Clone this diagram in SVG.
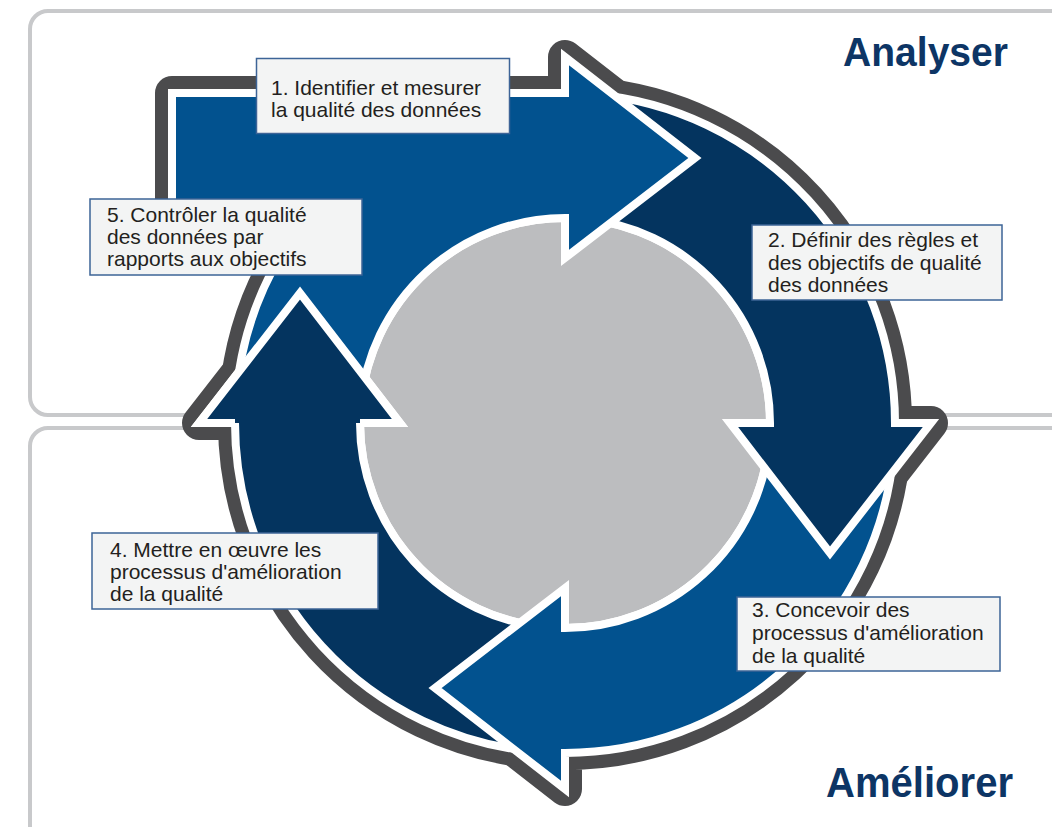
<svg xmlns="http://www.w3.org/2000/svg" width="1052" height="827" viewBox="0 0 1052 827">
  <style>
    .panel { fill: #ffffff; stroke: #c8c9cb; stroke-width: 4; }
    .outline { fill: #4b4b4d; stroke: #4b4b4d; stroke-width: 34; stroke-linejoin: round; }
    .arrow { stroke: #ffffff; stroke-width: 8; stroke-linejoin: miter; stroke-miterlimit: 6; }
    .mid { fill: #02528f; }
    .navy { fill: #04345f; }
    .hub { fill: #bcbdbf; stroke: #ffffff; stroke-width: 8; }
    .box { fill: #f3f4f4; stroke: #3d6497; stroke-width: 1.5; }
    .lbl { font-family: "Liberation Sans", Arial, sans-serif; font-size: 21px; fill: #231f20; }
    .title { font-family: "Liberation Sans Narrow", "Liberation Sans", Arial, sans-serif; font-weight: bold; fill: #0d3565; }
  </style>
  <defs>
    <!-- four ring arrows around centre (565,423): ring r 205..330, heads r 165..366 -->
    <path id="a1" d="M 236.26 394.24 A 330 330 0 0 1 285.14 248.13 L 172 215 L 172 93 L 565 93 L 565 57 L 695 158 L 565 258 L 565 218 A 205 205 0 0 0 360.78 405.13 Z"/>
    <path id="a2" d="M 593.76 94.26 A 330 330 0 0 1 895 423 L 931 423 L 830 553 L 730 423 L 770 423 A 205 205 0 0 0 582.87 218.78 Z"/>
    <path id="a3" d="M 893.74 451.76 A 330 330 0 0 1 565 753 L 565 789 L 435 688 L 565 588 L 565 628 A 205 205 0 0 0 769.22 440.87 Z"/>
    <path id="a4" d="M 536.24 751.74 A 330 330 0 0 1 235 423 L 199 423 L 300 293 L 400 423 L 360 423 A 205 205 0 0 0 547.13 627.22 Z"/>
  </defs>

  <!-- background panels -->
  <g id="panels">
    <rect class="panel" x="30" y="11" width="1100" height="404" rx="18"/>
    <rect class="panel" x="30" y="428" width="1100" height="460" rx="18"/>
  </g>

  <g id="cycle">
    <!-- dark outline around the whole wheel -->
    <g id="outline">
      <use href="#a1" class="outline"/>
      <use href="#a2" class="outline"/>
      <use href="#a3" class="outline"/>
      <use href="#a4" class="outline"/>
    </g>
    <circle id="hub" class="hub" cx="565" cy="423" r="205"/>
    <!-- each head sits over the tail of the next arrow -->
    <g id="connectors">
      <use href="#a4" class="arrow navy"/>
      <use href="#a3" class="arrow mid"/>
      <use href="#a2" class="arrow navy"/>
      <use href="#a1" class="arrow mid"/>
      <!-- head of arrow 4 again, above the tail of arrow 1 (base left open) -->
      <path class="arrow navy" d="M 360 423 L 400 423 L 300 293 L 199 423 L 235 423"/>
    </g>
  </g>

  <g id="step-1">
    <rect class="box" x="256.5" y="58.5" width="253" height="75"/>
    <text class="lbl" x="271" y="95">1. Identifier et mesurer</text>
    <text class="lbl" x="271" y="117">la qualité des données</text>
  </g>
  <g id="step-2">
    <rect class="box" x="752" y="225" width="250" height="75"/>
    <text class="lbl" x="768" y="247">2. Définir des règles et</text>
    <text class="lbl" x="768" y="269.5">des objectifs de qualité</text>
    <text class="lbl" x="768" y="292">des données</text>
  </g>
  <g id="step-3">
    <rect class="box" x="737" y="597" width="263" height="74"/>
    <text class="lbl" x="752" y="617">3. Concevoir des</text>
    <text class="lbl" x="752" y="640">processus d'amélioration</text>
    <text class="lbl" x="752" y="663">de la qualité</text>
  </g>
  <g id="step-4">
    <rect class="box" x="92" y="533" width="286" height="76"/>
    <text class="lbl" x="110" y="557">4. Mettre en œuvre les</text>
    <text class="lbl" x="110" y="579">processus d'amélioration</text>
    <text class="lbl" x="110" y="601">de la qualité</text>
  </g>
  <g id="step-5">
    <rect class="box" x="90" y="199" width="272" height="76"/>
    <text class="lbl" x="107" y="222">5. Contrôler la qualité</text>
    <text class="lbl" x="107" y="244">des données par</text>
    <text class="lbl" x="107" y="266">rapports aux objectifs</text>
  </g>

  <g id="titles">
    <text class="title" x="843" y="66" font-size="41" textLength="165" lengthAdjust="spacingAndGlyphs">Analyser</text>
    <text class="title" x="826" y="797" font-size="42" textLength="187" lengthAdjust="spacingAndGlyphs">Améliorer</text>
  </g>
</svg>
